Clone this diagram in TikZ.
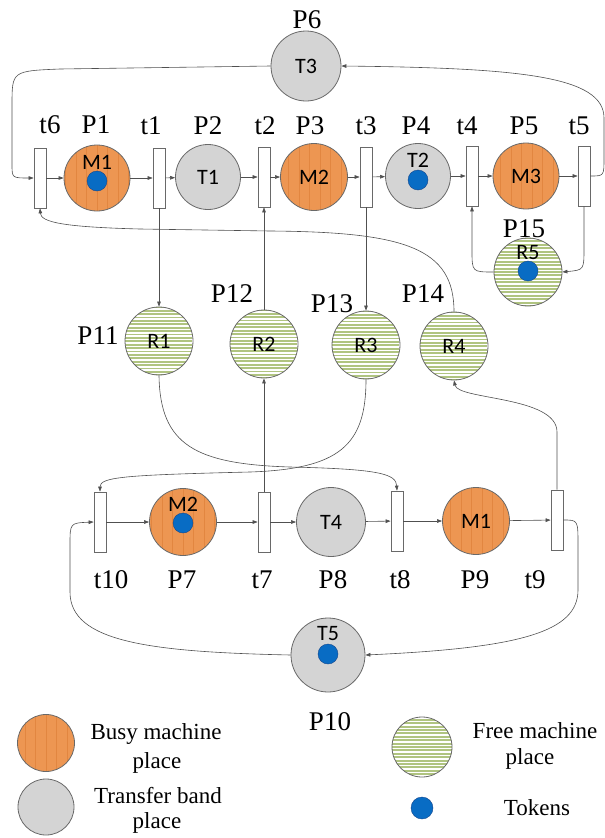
\documentclass[tikz,border=0pt]{standalone}
\usepackage{fontspec}
\setmainfont{Liberation Serif}
\newfontfamily\carl{Carlito}
\usetikzlibrary{arrows.meta}
\definecolor{busyc}{RGB}{237,150,82}
\definecolor{busys}{RGB}{226,134,64}
\definecolor{transc}{RGB}{212,212,212}
\definecolor{freec}{RGB}{176,196,128}
\definecolor{tokc}{RGB}{8,108,196}
\definecolor{tokd}{RGB}{20,70,140}
\definecolor{edgec}{RGB}{105,105,105}
\definecolor{linec}{RGB}{80,80,80}
\tikzset{
 pl/.style={circle, draw=edgec, line width=0.8pt, inner sep=0pt, minimum size=#1, font=\carl\fontsize{22}{22}\selectfont},
 busy/.style={pl=#1, fill=busyc, path picture={\begin{scope}[shift={(path picture bounding box.center)}]\foreach \i in {-4,...,4}{\draw[busys, line width=0.45pt] (\i*10.5,-45) -- (\i*10.5,45);}\end{scope}}},
 trans/.style={pl=#1, fill=transc},
 free/.style={pl=#1, fill=white, path picture={\begin{scope}[shift={(path picture bounding box.center)}]\foreach \i in {-13,...,13}{\fill[freec] (-45,\i*3.4-0.95) rectangle (45,\i*3.4+0.95);}\end{scope}}},
 tr/.style={rectangle, draw=edgec, line width=0.7pt, fill=white, minimum width=12pt, minimum height=60pt, inner sep=0pt},
 tok/.style={circle, fill=tokc, draw=tokd, line width=0.4pt, minimum size=20pt, inner sep=0pt},
 itxt/.style={font=\carl\fontsize{22}{22}\selectfont, inner sep=0pt},
 lab/.style={font=\fontsize{27}{27}\selectfont, inner sep=0pt, anchor=base},
 leg/.style={font=\fontsize{23}{23}\selectfont, inner sep=0pt, anchor=base},
 arr/.style={draw=linec, line width=0.6pt, -{Triangle[length=5pt,width=3.6pt]}},
 ln/.style={draw=linec, line width=0.6pt}
}
\begin{document}
\begin{tikzpicture}[x=1pt,y=-1pt]
\useasboundingbox (0,0) rectangle (605,838);
% ---- top row transitions
\node[tr] (t6) at (40,178) {};
\node[tr] (t1) at (159,178) {};
\node[tr] (t2) at (264,177) {};
\node[tr] (t3) at (366,177) {};
\node[tr] (t4) at (472,176) {};
\node[tr] (t5) at (584,176) {};
% ---- top row places
\node[busy=66] (P1) at (97,178) {};
\node[itxt] (P1l) at (97,162) {M1};
\node[tok] (P1k) at (97,181) {};
\node[trans=65] (P2) at (208,177) {T1};
\node[busy=67] (P3) at (314,177) {M2};
\node[trans=65] (P4) at (418,176) {};
\node[itxt] (P4l) at (418,160) {T2};
\node[tok] (P4k) at (418,180) {};
\node[busy=66] (P5) at (526,176) {M3};
\node[trans=70] (P6) at (306,66) {T3};
\node[free=68] (P15) at (528,272) {};
\node[itxt] (P15l) at (528,253) {R5};
\node[tok] (P15k) at (528,271) {};
% ---- middle row
\node[free=68] (P11) at (159,341) {R1};
\node[free=68] (P12) at (264,344) {R2};
\node[free=68] (P13) at (366,345) {R3};
\node[free=68] (P14) at (454,346) {R4};
% ---- bottom row
\node[tr] (t10) at (100,522) {};
\node[tr] (t7) at (264,522) {};
\node[tr] (t8) at (397,521) {};
\node[tr] (t9) at (557,520) {};
\node[busy=67] (P7) at (183,522) {};
\node[itxt] (P7l) at (183,504) {M2};
\node[tok] (P7k) at (183,523) {};
\node[trans=69] (P8) at (331,522) {T4};
\node[busy=67] (P9) at (476,521) {M1};
\node[trans=74] (P10) at (328,655) {};
\node[itxt] (P10l) at (328,634) {T5};
\node[tok] (P10k) at (328,654) {};
% ---- labels
\node[lab] (Lt6) at (50,133) {t6};
\node[lab] (LP1) at (96,133) {P1};
\node[lab] (Lt1) at (151,134) {t1};
\node[lab] (LP2) at (208,134) {P2};
\node[lab] (Lt2) at (265,134) {t2};
\node[lab] (LP3) at (310,134) {P3};
\node[lab] (Lt3) at (366,134) {t3};
\node[lab] (LP4) at (416,134) {P4};
\node[lab] (Lt4) at (467,134) {t4};
\node[lab] (LP5) at (524,134) {P5};
\node[lab] (Lt5) at (579,134) {t5};
\node[lab] (LP6) at (307,28) {P6};
\node[lab] (LP15) at (524,237) {P15};
\node[lab] (LP11) at (98,344) {P11};
\node[lab] (LP12) at (232,302) {P12};
\node[lab] (LP13) at (332,312) {P13};
\node[lab] (LP14) at (423,302) {P14};
\node[lab] (Lt10) at (111,588) {t10};
\node[lab] (LP7) at (182,588) {P7};
\node[lab] (Lt7) at (262,588) {t7};
\node[lab] (LP8) at (333,588) {P8};
\node[lab] (Lt8) at (400,588) {t8};
\node[lab] (LP9) at (475,588) {P9};
\node[lab] (Lt9) at (535,588) {t9};
\node[lab] (LP10) at (330,730) {P10};
% ---- top row arcs
\draw[arr] (t6) -- (P1);
\draw[arr] (P1) -- (t1);
\draw[arr] (t1) -- (P2);
\draw[arr] (P2) -- (t2);
\draw[arr] (t2) -- (P3);
\draw[arr] (P3) -- (t3);
\draw[arr] (t3) -- (P4);
\draw[arr] (P4) -- (t4);
\draw[arr] (t4) -- (P5);
\draw[arr] (P5) -- (t5);
\draw[arr] (P6.west) -- (60,69) .. controls (12,71) .. (12,105) -- (12,164) .. controls (12,178) .. (t6.west);
\draw[arr] (t5.east) .. controls (604,176) .. (604,158) -- (604,118) .. controls (604,76) and (520,68) .. (P6.east);
\draw[arr] (t5.south) -- (584,248) .. controls (584,270) .. (P15.east);
\draw[arr] (P15.west) .. controls (472,272) .. (472,250) -- (t4.south);
% ---- middle arcs
\draw[arr] (t1.south) -- (P11.north);
\draw[arr] (P12.north) -- (t2.south);
\draw[arr] (t3.south) -- (P13.north);
\draw[arr] (P14.north) .. controls (454,248) and (405,232) .. (270,231) -- (140,229) .. controls (62,227) and (41,222) .. (t6.south);
% ---- bottom arcs
\draw[arr] (t7.north) -- (P12.south);
\draw[arr] (P11.south) .. controls (160,445) and (195,464) .. (290,467) .. controls (380,469) and (396,474) .. (t8.north);
\draw[arr] (P13.south) .. controls (366,445) and (340,469) .. (250,472) .. controls (125,475) and (100,477) .. (t10.north);
\draw[arr] (t9.north) -- (557,432) .. controls (557,396) and (458,400) .. (P14.south);
\draw[arr] (t10) -- (P7);
\draw[arr] (P7) -- (t7);
\draw[arr] (t7) -- (P8);
\draw[arr] (P8) -- (t8);
\draw[arr] (t8) -- (P9);
\draw[arr] (P9) -- (t9);
\draw[arr] (t9.east) .. controls (578,520) .. (578,545) -- (578,590) .. controls (578,632) and (520,648) .. (P10.east);
\draw[arr] (P10.west) .. controls (150,652) and (70,642) .. (70,592) -- (70,545) .. controls (70,523) .. (t10.west);
% ---- legend
\node[busy=57] (Lb) at (46,743) {};
\node[trans=56] (Lt) at (46,807) {};
\node[free=60] (Lf) at (422,747) {};
\node[tok, minimum size=22pt] (Lk) at (422,808) {};
\node[leg] (Lb1) at (156,739) {Busy machine};
\node[leg] (Lb2) at (157,768) {place};
\node[leg] (Lt1x) at (158,803) {Transfer band};
\node[leg] (Lt2x) at (157,828) {place};
\node[leg] (Lf1) at (535,738) {Free machine};
\node[leg] (Lf2) at (530,764) {place};
\node[leg] (Lk1) at (537,815) {Tokens};
\end{tikzpicture}
\end{document}
